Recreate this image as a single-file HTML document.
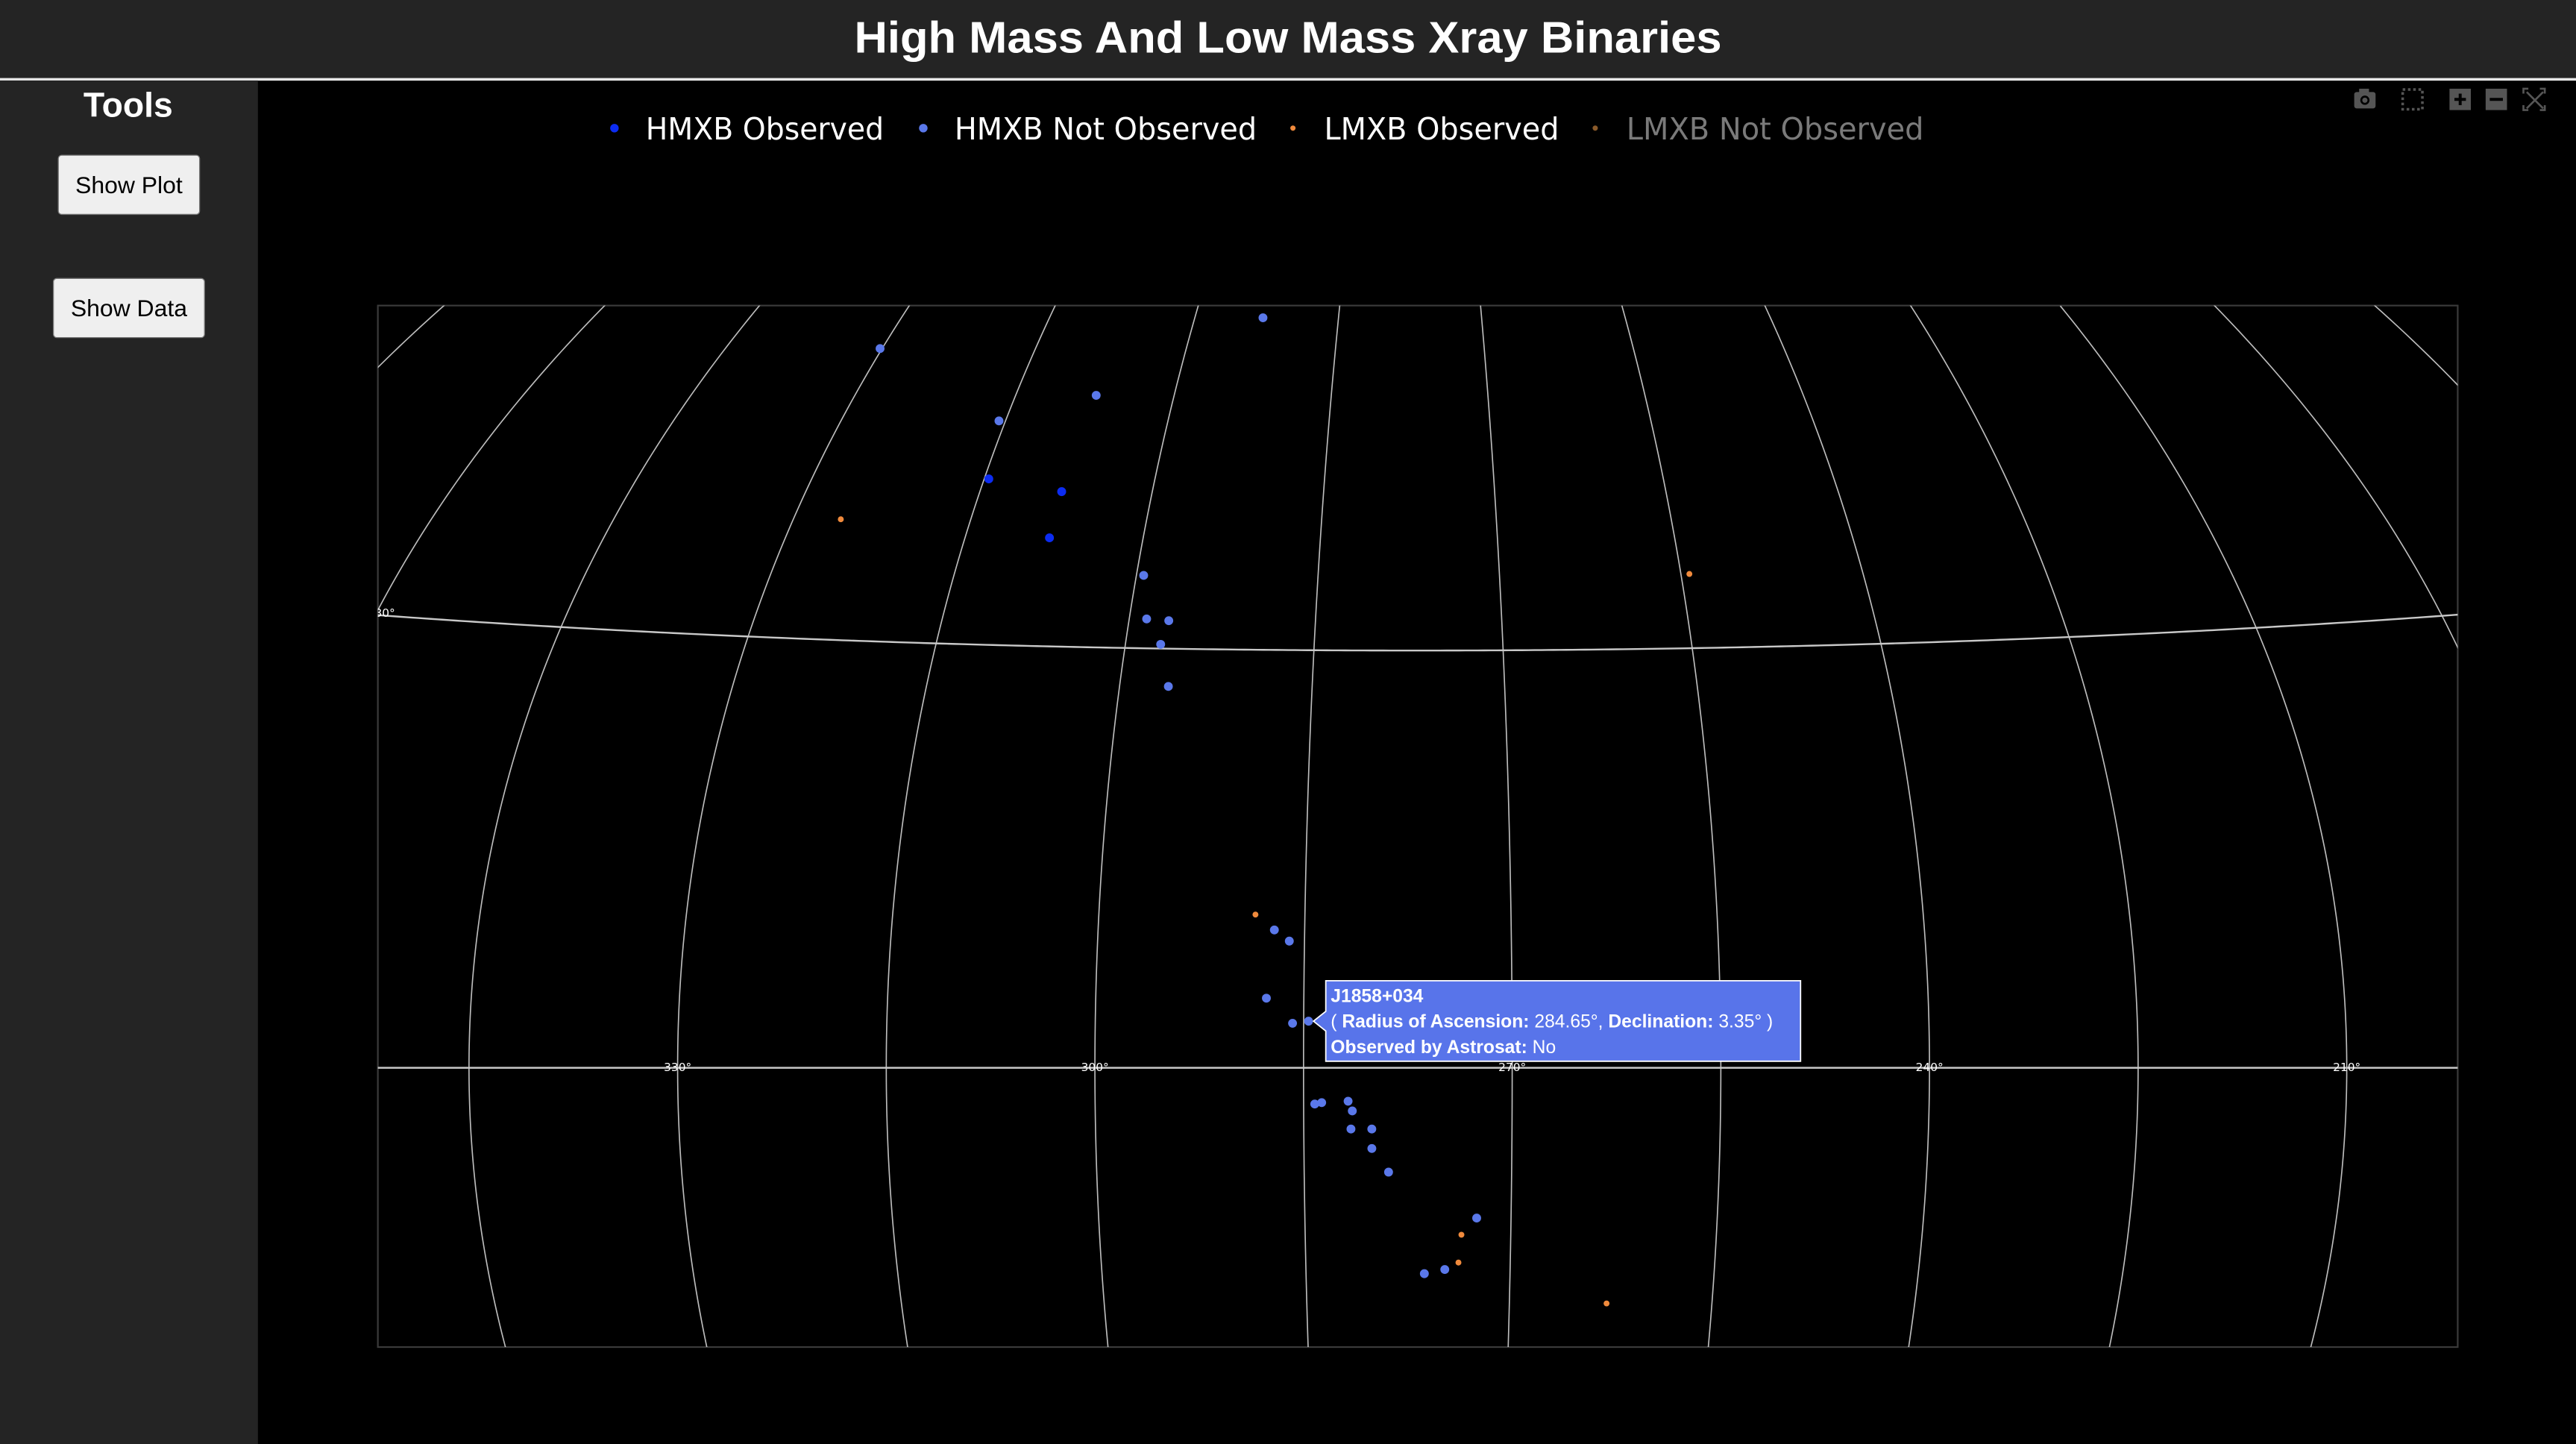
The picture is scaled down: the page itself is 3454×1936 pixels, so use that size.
<!DOCTYPE html>
<html><head><meta charset="utf-8"><title>High Mass And Low Mass Xray Binaries</title>
<style>
html,body{margin:0;padding:0;background:#000;overflow:hidden;width:3454px;height:1936px}
svg{display:block;position:absolute;left:0;top:0}
</style></head>
<body>
<svg id="root" width="3454" height="1936" viewBox="0 0 1568 879" preserveAspectRatio="none" xmlns="http://www.w3.org/2000/svg">
  <defs>
    <clipPath id="plotclip"><rect x="230" y="186" width="1266" height="634"/></clipPath>
  </defs>
  <rect x="0" y="0" width="1568" height="879" fill="#000"/>
  <g>
    <rect x="0" y="0" width="1568" height="48" fill="#242424"/>
    <rect x="0" y="47.5" width="1568" height="1.6" fill="#e8e8e8"/>
    <text x="784" y="32" text-anchor="middle" font-family="Liberation Sans, sans-serif" font-weight="bold" font-size="27" fill="#fff" textLength="528" lengthAdjust="spacingAndGlyphs">High Mass And Low Mass Xray Binaries</text>
  </g>
  <g>
    <rect x="0" y="49" width="157" height="830" fill="#242424"/>
    <text x="78" y="71" text-anchor="middle" font-family="Liberation Sans, sans-serif" font-weight="bold" font-size="21" fill="#fff">Tools</text>
    <g>
      <rect x="35.5" y="94.5" width="86" height="36" rx="2" fill="#efefef" stroke="#767676" stroke-width="0.6"/>
      <text x="78.5" y="117.5" text-anchor="middle" font-family="Liberation Sans, sans-serif" font-size="14.5" fill="#000">Show Plot</text>
    </g>
    <g>
      <rect x="32.5" y="169.5" width="92" height="36" rx="2" fill="#efefef" stroke="#767676" stroke-width="0.6"/>
      <text x="78.5" y="192.5" text-anchor="middle" font-family="Liberation Sans, sans-serif" font-size="14.5" fill="#000">Show Data</text>
    </g>
  </g>
  <g fill="#555">
    <g>
      <rect x="1433" y="56" width="13" height="10" rx="1.5"/>
      <rect x="1436" y="54" width="6" height="3"/>
      <circle cx="1439.5" cy="61" r="2.8" fill="#000"/>
      <circle cx="1439.5" cy="61" r="1.6"/>
    </g>
    <g>
      <rect x="1462.5" y="54.5" width="12" height="12" fill="none" stroke="#555" stroke-width="1.6" stroke-dasharray="1.6,1.6"/>
    </g>
    <g>
      <rect x="1491" y="54" width="13" height="13"/>
      <rect x="1494" y="59.6" width="7" height="1.8" fill="#000"/>
      <rect x="1496.6" y="57" width="1.8" height="7" fill="#000"/>
    </g>
    <g>
      <rect x="1513" y="54" width="13" height="13"/>
      <rect x="1515.5" y="59.6" width="8" height="1.8" fill="#000"/>
    </g>
    <g stroke="#555" stroke-width="1.2" fill="none">
      <path d="M1536 57v-3h3M1546 54h3v3M1549 64v3h-3M1539 67h-3v-3"/>
      <path d="M1538 56l10 10M1548 56l-10 10"/>
    </g>
  </g>
  <g id="legend" font-family="DejaVu Sans, sans-serif" font-size="18.5"></g>
  <rect x="230" y="186" width="1266" height="634" fill="none" stroke="#3a3a3a" stroke-width="1"/>
  <g id="grid" clip-path="url(#plotclip)"></g>
  <g id="labels" clip-path="url(#plotclip)" font-family="DejaVu Sans, sans-serif" font-size="7" fill="#fff"></g>
  <g id="marks" clip-path="url(#plotclip)"></g>
  <g id="tooltip"></g>
</svg>
<script>
// ---- data (RA, Dec in degrees) ----
const hmxbObsRA  = [314.6, 307.9, 307.9];
const hmxbObsDec = [41.7, 41.0, 37.7];
const hmxbNotRA  = [292.9, 330.2, 307.4, 315.6, 299.4, 298.6, 296.8, 297.2, 296.2, 287.2, 286.1, 287.7, 285.8, 284.65, 284.2, 283.7, 281.8, 281.5, 281.6, 280.1, 280.1, 278.9, 272.5, 274.8, 276.3];
const hmxbNotDec = [53.8, 50.3, 47.9, 45.8, 35.2, 32.1, 32.0, 30.3, 27.3, 9.9, 9.1, 5.0, 3.2, 3.35, -2.6, -2.5, -2.4, -3.1, -4.4, -4.4, -5.8, -7.5, -10.8, -14.5, -14.8];
const lmxbObsRA  = [326.0, 254.3, 288.6, 273.6, 273.8, 262.8];
const lmxbObsDec = [38.4, 35.3, 11.0, -12.0, -14.0, -16.9];
const lonTicks = [330, 300, 270, 240, 210];
const latTicks = [30];
const legendNames = ["HMXB Observed", "HMXB Not Observed", "LMXB Observed", "LMXB Not Observed"];

// ---- projection (Aitoff, RA increasing to the left) ----
const NS = "http://www.w3.org/2000/svg";
const LON0 = 277, SCALE = 485.1, CX = 861.2, CY = 650;
const BX0 = 226, BX1 = 1500, BY0 = 182, BY1 = 824;
function proj(ra, dec) {
  let l = (ra - LON0) * Math.PI / 180;
  while (l > Math.PI) l -= 2 * Math.PI;
  while (l < -Math.PI) l += 2 * Math.PI;
  const p = dec * Math.PI / 180;
  const a = Math.acos(Math.cos(p) * Math.cos(l / 2));
  const sinc = a < 1e-9 ? 1 : Math.sin(a) / a;
  const x = 2 * Math.cos(p) * Math.sin(l / 2) / sinc;
  const y = Math.sin(p) / sinc;
  return [CX - SCALE * x, CY - SCALE * y];
}
function mk(tag, attrs, parent) {
  const e = document.createElementNS(NS, tag);
  for (const k in attrs) e.setAttribute(k, attrs[k]);
  parent.appendChild(e);
  return e;
}
function inBox(x, y) { return x >= BX0 && x <= BX1 && y >= BY0 && y <= BY1; }
function pathFrom(pts) {
  let d = "", pen = false;
  pts.forEach(([x, y]) => {
    if (inBox(x, y)) {
      d += (pen ? "L" : "M") + x.toFixed(2) + " " + y.toFixed(2);
      pen = true;
    } else pen = false;
  });
  return d;
}

// ---- graticule ----
const grid = document.getElementById('grid');
for (let lon = 150; lon <= 405; lon += 15) {
  const pts = [];
  for (let lat = -60; lat <= 85; lat += 0.5) pts.push(proj(lon, lat));
  const d = pathFrom(pts);
  if (!d) continue;
  const m = mk('path', {d: d, fill: 'none', stroke: '#bdbdbd', 'stroke-width': 0.75}, grid);
  
  
}
[0, 30].forEach(lat => {
  const pts = [];
  for (let lon = 170; lon <= 380; lon += 0.5) pts.push(proj(lon, lat));
  const p = mk('path', {d: pathFrom(pts), fill: 'none', stroke: '#c8c8c8', 'stroke-width': 1.1}, grid);
  
  
});

// ---- tick labels ----
const labels = document.getElementById('labels');
lonTicks.forEach(lon => {
  const [x, y] = proj(lon, 0);
  const t = mk('text', {x: x.toFixed(1), y: (y + 2).toFixed(1), 'text-anchor': 'middle'}, labels);
  t.textContent = lon + "°";
  
  
});
latTicks.forEach(lat => {
  const t = mk('text', {x: 240.5, y: 375.5, 'text-anchor': 'end'}, labels);
  t.textContent = lat + "°";
  
  
});

// ---- markers ----
const marks = document.getElementById('marks');
function series(ras, decs, color, r, name) {
  const g = mk('g', {fill: color}, marks);
  
  
  ras.forEach((ra, i) => {
    const [x, y] = proj(ra, decs[i]);
    const c = mk('circle', {cx: x.toFixed(2), cy: y.toFixed(2), r: r}, g);
    
    
  });
}
series(hmxbObsRA, hmxbObsDec, '#0c2cf2', 2.7, 'hmxb-observed');
series(hmxbNotRA, hmxbNotDec, '#5a78ea', 2.7, 'hmxb-not-observed');
series(lmxbObsRA, lmxbObsDec, '#f08a3c', 1.8, 'lmxb-observed');

// ---- legend ----
const legend = document.getElementById('legend');
const legColors = ['#0c2cf2', '#5a78ea', '#f08a3c', '#8a5a2a'];
const legR = [2.6, 2.6, 1.6, 1.6];
const legDotX = [374, 562, 787, 971];
const legWidths = [145, 184, 143, 181];
const legText = ['#ffffff', '#ffffff', '#ffffff', '#7a7a7a'];
legendNames.forEach((n, i) => {
  const g = mk('g', {}, legend);
  
  
  mk('circle', {cx: legDotX[i], cy: 78, r: legR[i], fill: legColors[i]}, g);
  const t = mk('text', {x: legDotX[i] + 19, y: 85, fill: legText[i], textLength: legWidths[i], lengthAdjust: 'spacingAndGlyphs'}, g);
  t.textContent = n;
});

// ---- tooltip ----
const tip = document.getElementById('tooltip');
const [hx, hy] = proj(284.65, 3.35);
mk('path', {d: `M${hx+3} ${hy} L${807} ${hy-6} L807 597 L1096 597 L1096 646 L807 646 L807 ${hy+6} Z`, fill: '#5874ea', stroke: '#fff', 'stroke-width': 0.8}, tip);
const t1 = mk('text', {x: 810, y: 610, 'font-family': 'Liberation Sans, sans-serif', 'font-size': 11.2, fill: '#fff', 'font-weight': 'bold'}, tip);
t1.textContent = 'J1858+034';
const t2 = mk('text', {x: 810, y: 625.5, 'font-family': 'Liberation Sans, sans-serif', 'font-size': 11.2, fill: '#fff'}, tip);
t2.innerHTML = '( <tspan font-weight="bold">Radius of Ascension:</tspan> 284.65°, <tspan font-weight="bold">Declination:</tspan> 3.35° )';
const t3 = mk('text', {x: 810, y: 641, 'font-family': 'Liberation Sans, sans-serif', 'font-size': 11.2, fill: '#fff'}, tip);
t3.innerHTML = '<tspan font-weight="bold">Observed by Astrosat:</tspan> No';
</script>
</body></html>
